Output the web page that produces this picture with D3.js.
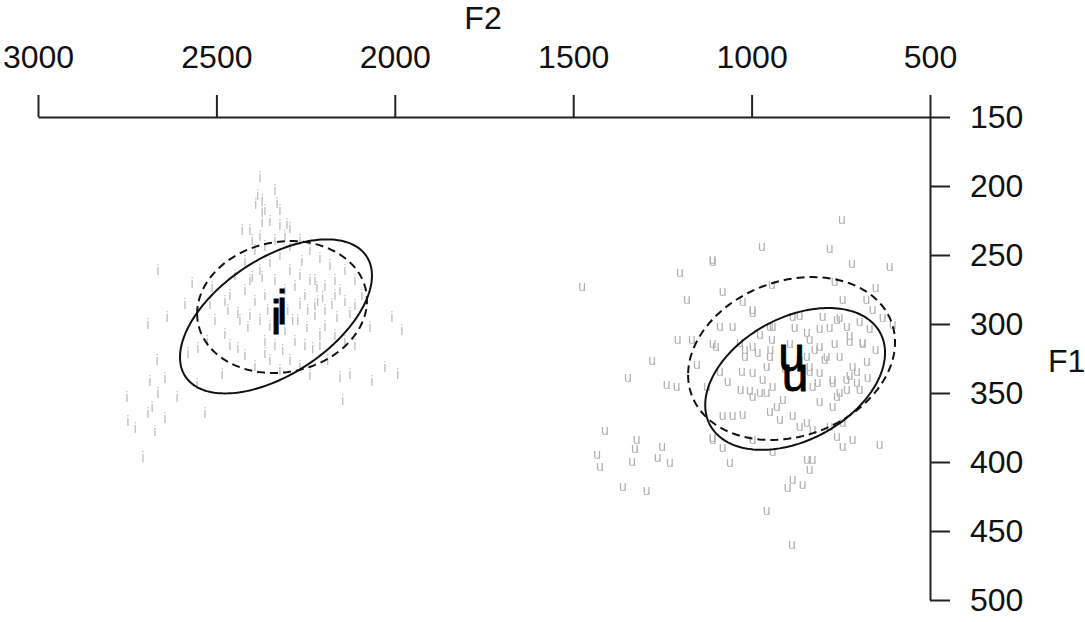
<!DOCTYPE html>
<html>
<head>
<meta charset="utf-8">
<script src="https://cdn.jsdelivr.net/npm/d3@7"></script>
<style>
  body { margin: 0; background: #fff; }
  svg { display: block; }
</style>
</head>
<body>
<svg id="chart" width="1085" height="622"></svg>
<script>
// axis ticks
var f2Ticks = [3000, 2500, 2000, 1500, 1000, 500];
var f1Ticks = [150, 200, 250, 300, 350, 400, 450, 500];

// vowel /i/ tokens (F2, F1 in Hz)
var iF2 = [2378,2372,2372,2372,2390,2428,2406,2664,2568,2512,2518,2588,2638,2692,2468,2440,2400,2372,2476,2526,
           2552,2666,2580,2484,2644,2686,2664,2751,2680,2644,2610,2532,2728,2748,2672,2706,2692,2554,2412,2364,
           2440,2336,2322,2322,2302,2294,2260,2238,2218,2202,2176,2154,2266,2286,2246,2210,2162,2126,2070,2008,
           1980,2028,1992,2064,2126,2154,2146,2188,2230,2314,2294,2330,2420,2392,2364,2350,2322,2294,2266,2238,
           2210,2182,2140,2112,2448,2420,2392,2364,2336,2308,2280,2252,2224,2196,2168,2140,2112,2092,2434,2406,
           2378,2350,2308,2280,2252,2224,2196,2168,2140,2112,2462,2420,2392,2350,2322,2266,2238,2210,2406,2378,
           2294,2266,2224,2196,2168,2364,2336,2476,2504,2462,2300,2272,2244,2216,2356,2384,2364,2350,2308,2378,
           2336,2400];
var iF1 = [193,210,218,226,213,232,232,261,270,273,285,285,295,300,290,292,266,266,307,312,
           317,326,321,336,339,341,350,353,360,368,353,364,375,370,377,396,364,343,302,321,
           317,203,217,228,227,230,254,268,273,280,285,275,285,297,302,307,295,292,302,295,
           304,331,336,341,336,338,355,326,317,319,326,212,254,246,243,255,250,243,239,246,
           252,257,261,268,264,275,283,279,268,275,272,279,286,290,279,283,286,279,297,293,
           297,301,304,312,315,293,301,308,312,315,315,322,330,326,333,330,337,315,268,261,
           261,264,268,272,268,312,315,283,297,279,290,297,290,283,290,206,217,225,236,236,
           239,239];

// vowel /u/ tokens (F2, F1 in Hz)
var uF2 = [1109,1201,1475,1181,1207,1167,1109,1279,1347,1238,1210,1153,1411,1322,1327,1433,1251,1263,1335,1229,
           1425,1361,1294,1109,1125,747,971,781,1109,719,613,943,767,652,1081,745,678,1025,997,865,
           801,753,697,661,1089,1053,949,879,781,733,1100,1033,997,943,837,809,725,689,1019,949,
           845,790,1089,1067,1027,1005,969,958,997,929,949,921,885,845,829,865,809,773,753,734,
           705,815,837,773,1081,1053,1025,1109,1081,1061,997,941,845,829,837,885,857,899,958,887,
           761,745,717,641,745,781,997,941,885,845,809,761,725,689,669,1019,983,947,823,795,
           753,717,677,725,773,809,837,997,958,941,977,761,733,705,829,912,1031,633,652,675,
           697,605,893,865,907,977,767];
var uF1 = [254,263,273,283,312,312,315,327,339,344,346,330,378,384,391,395,389,397,400,401,
           404,418,421,384,346,225,244,246,255,257,259,272,270,274,277,283,283,284,290,294,
           295,296,299,290,302,302,302,303,303,302,317,314,317,312,312,317,313,315,324,324,
           324,324,335,342,335,349,341,350,353,360,364,370,367,372,377,375,357,360,350,341,
           335,343,335,343,367,367,366,383,390,401,384,393,399,399,406,413,417,419,436,460,
           382,389,384,388,372,375,292,302,295,307,304,297,309,314,304,319,321,319,319,326,
           324,331,328,338,341,336,331,336,331,346,350,353,348,343,346,355,348,296,319,339,
           348,301,315,326,333,308,315];

// ellipses: vowel, centre F2, centre F1, radius F2, radius F1, correlation, dashed?
var ellVowel = ["i", "i", "u", "u"];
var ellF2    = [2333, 2316, 878, 888];
var ellF1    = [294.5, 287.7, 339.8, 325];
var ellRadF2 = [269, 238, 252, 290];
var ellRadF1 = [55.8, 47.8, 51.4, 59];
var ellCorr  = [0.53, 0.10, 0.37, 0.20];
var ellDash  = [false, true, false, true];

var svg = d3.select("#chart");
var font = "'Liberation Sans', Arial, sans-serif";

var x = d3.scaleLinear().domain([3000, 500]).range([38, 930]);
var y = d3.scaleLinear().domain([150, 500]).range([117, 600]);

// greyscale filter so the small glyphs get no coloured fringes
svg.append("defs").append("filter")
   .attr("id", "grey")
   .append("feColorMatrix")
   .attr("type", "saturate")
   .attr("values", 0);

// tokens
var iData = iF2.map(function(d, k) { return [d, iF1[k]]; });
var uData = uF2.map(function(d, k) { return [d, uF1[k]]; });

var tokens = svg.append("g").attr("filter", "url(#grey)");

tokens.append("g").selectAll("text")
   .data(iData)
   .enter().append("text")
   .attr("x", function(d) { return x(d[0]); })
   .attr("y", function(d) { return y(d[1]); })
   .attr("dy", "0.35em")
   .attr("text-anchor", "middle")
   .attr("font-family", font)
   .attr("font-size", 15)
   .attr("fill", "#c0c0c0")
   .text("i");

tokens.append("g").selectAll("text")
   .data(uData)
   .enter().append("text")
   .attr("x", function(d) { return x(d[0]); })
   .attr("y", function(d) { return y(d[1]); })
   .attr("dy", "0.27em")
   .attr("text-anchor", "middle")
   .attr("font-family", font)
   .attr("font-size", 14)
   .attr("fill", "#b0b0b0")
   .text("u");

// ellipses
var line = d3.line()
   .x(function(d) { return x(d[0]); })
   .y(function(d) { return y(d[1]); })
   .curve(d3.curveLinearClosed);

ellVowel.forEach(function(v, k) {
    var r = ellCorr[k], s = Math.sqrt(1 - r * r);
    var pts = d3.range(0, 2 * Math.PI, Math.PI / 90).map(function(t) {
        return [ellF2[k] + ellRadF2[k] * Math.cos(t),
                ellF1[k] + ellRadF1[k] * (r * Math.cos(t) + s * Math.sin(t))];
    });
    svg.append("path")
       .attr("d", line(pts))
       .attr("fill", "none")
       .attr("stroke", "#111")
       .attr("stroke-width", 2)
       .attr("stroke-dasharray", ellDash[k] ? "8,5" : null);
});

// vowel labels at the centres
ellVowel.forEach(function(v, k) {
    svg.append("text")
       .attr("x", x(ellF2[k]))
       .attr("y", y(ellF1[k]))
       .attr("dy", v == "i" ? "0.36em" : "0.26em")
       .attr("text-anchor", "middle")
       .attr("font-family", font)
       .attr("font-size", 48)
       .attr("fill", "#000")
       .attr("stroke", "#000")
       .attr("stroke-width", 0.8)
       .text(v);
});

// axes
var xAxis = svg.append("g")
   .attr("transform", "translate(0,117)")
   .call(d3.axisTop(x).tickValues(f2Ticks).tickFormat(d3.format("d"))
          .tickSize(22).tickSizeOuter(0).tickPadding(27));

var yAxis = svg.append("g")
   .attr("transform", "translate(930,0)")
   .call(d3.axisRight(y).tickValues(f1Ticks).tickFormat(d3.format("d"))
          .tickSize(20).tickSizeOuter(0).tickPadding(20));

[xAxis, yAxis].forEach(function(g) {
    g.selectAll("path, line").attr("stroke", "#222").attr("stroke-width", 2);
    g.selectAll("text").attr("font-family", font).attr("font-size", 32).attr("fill", "#111");
});
xAxis.selectAll(".tick text").attr("dy", "0em");

svg.append("text")
   .attr("x", 483)
   .attr("y", 29)
   .attr("text-anchor", "middle")
   .attr("font-family", font)
   .attr("font-size", 32)
   .attr("fill", "#111")
   .text("F2");

svg.append("text")
   .attr("x", 1048)
   .attr("y", 372)
   .attr("font-family", font)
   .attr("font-size", 32)
   .attr("fill", "#111")
   .text("F1");
</script>
</body>
</html>
